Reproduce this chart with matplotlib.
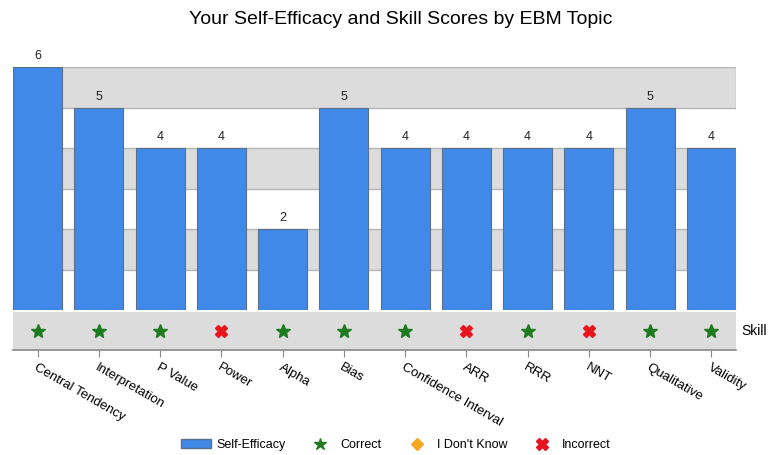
import matplotlib
matplotlib.use("Agg")
import matplotlib.pyplot as plt
from matplotlib.patches import Patch
from matplotlib.lines import Line2D

plt.rcParams["font.family"] = ["Liberation Sans", "DejaVu Sans"]

topics = ["Central Tendency", "Interpretation", "P Value", "Power", "Alpha", "Bias",
          "Confidence Interval", "ARR", "RRR", "NNT", "Qualitative", "Validity"]
self_efficacy = [6, 5, 4, 4, 2, 5, 4, 4, 4, 4, 5, 4]
skill = ["Correct", "Correct", "Correct", "Incorrect", "Correct", "Correct",
         "Correct", "Incorrect", "Correct", "Incorrect", "Correct", "Correct"]

bar_color = "#4189E8"
band_color = "#DCDCDC"
green = "#1E7A1E"
red = "#E8141E"
orange = "#F5A623"

fig = plt.figure(figsize=(7.68, 4.55), dpi=100)
L, W = 13/768, (736-13)/768
ax = fig.add_axes([L, 1-310/455, W, (310-67)/455])
ax2 = fig.add_axes([L, 1-350/455, W, 38/455])

x = list(range(len(topics)))
for lo in (1, 3, 5):
    ax.axhspan(lo, lo+1, facecolor=band_color, edgecolor="#B5B5B5", linewidth=1, zorder=0)
ax.bar(x, self_efficacy, width=0.8, color=bar_color, edgecolor="#5A6F8A", linewidth=0.8, zorder=2)
for xi, v in zip(x, self_efficacy):
    ax.text(xi, v + 0.12, str(v), ha="center", va="bottom", fontsize=9, color="#222222",
            clip_on=False)
ax.set_xlim(-0.4, len(topics) - 0.6)
ax.set_ylim(0, 6)
ax.axis("off")

ax2.set_facecolor(band_color)
ax2.set_xlim(-0.4, len(topics) - 0.6)
ax2.set_ylim(0, 1)
for xi, s in zip(x, skill):
    if s == "Correct":
        ax2.plot(xi, 0.5, marker="*", color=green, markersize=10, markeredgecolor=green)
    elif s == "Incorrect":
        ax2.plot(xi, 0.5, marker="X", color=red, markersize=9, markeredgecolor=red)
    else:
        ax2.plot(xi, 0.5, marker="D", color=orange, markersize=7)
for sp in ("top", "left", "right"):
    ax2.spines[sp].set_visible(False)
ax2.spines["bottom"].set_color("#888888")
ax2.spines["bottom"].set_linewidth(1.2)
ax2.set_yticks([])
ax2.set_xticks(x)
ax2.set_xticklabels(topics, rotation=-30, ha="left", rotation_mode="anchor", fontsize=9.5)
ax2.tick_params(axis="x", length=5, color="#888888", pad=3)
fig.text(741/768, 1-331/455, "Skill", ha="left", va="center", fontsize=10)

fig.text(401/768, 1-20/455, "Your Self-Efficacy and Skill Scores by EBM Topic",
         ha="center", va="center", fontsize=14)

handles = [
    Patch(facecolor=bar_color, edgecolor="#5A6F8A", label="Self-Efficacy"),
    Line2D([], [], marker="*", color=green, linestyle="none", markersize=9, label="Correct"),
    Line2D([], [], marker="D", color=orange, linestyle="none", markersize=6, label="I Don't Know"),
    Line2D([], [], marker="X", color=red, linestyle="none", markersize=8, label="Incorrect"),
]
fig.legend(handles=handles, loc="center", bbox_to_anchor=(396/768, 1-445/455), ncol=4,
           frameon=False, fontsize=9, handlelength=2.4, handletextpad=0.4, columnspacing=1.6)

fig.savefig("out.png", dpi=100)
